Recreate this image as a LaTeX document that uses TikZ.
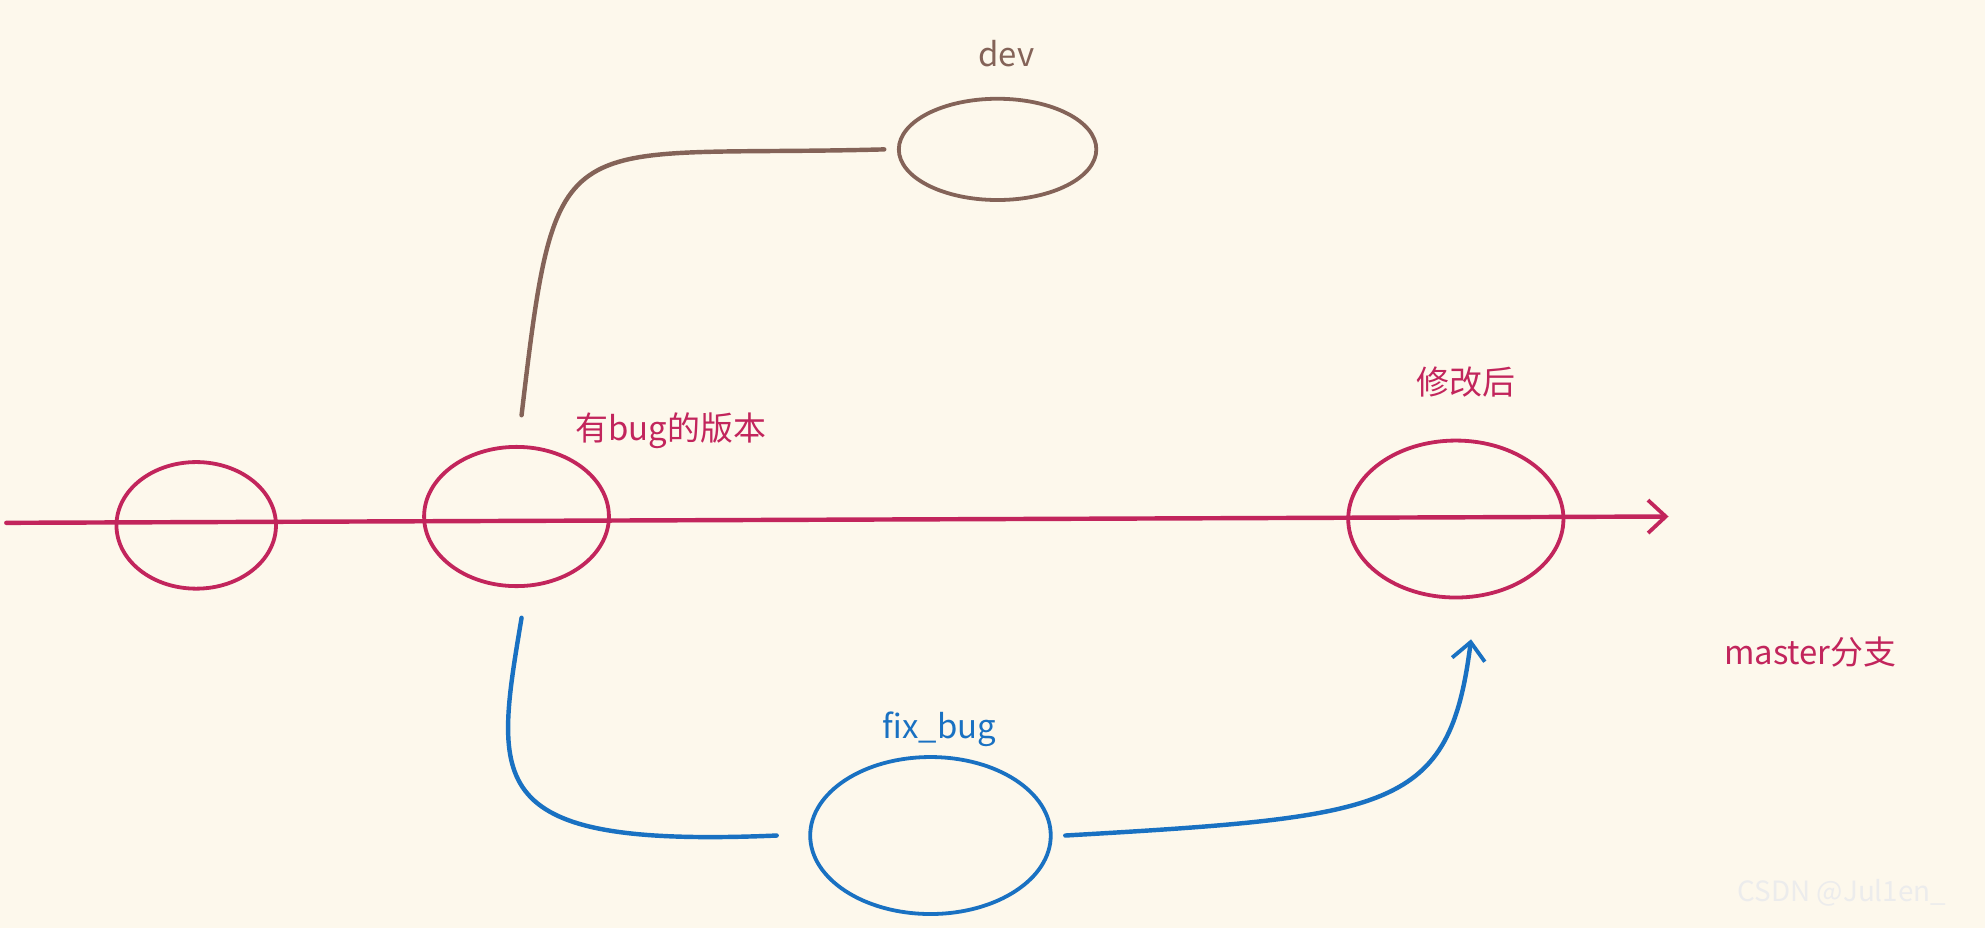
\documentclass[tikz,border=0pt]{standalone}
\usepackage{fontspec}
\setmainfont{Noto Sans CJK SC}
\usetikzlibrary{shapes.geometric,arrows.meta}
\definecolor{bg}{HTML}{FDF8EC}
\definecolor{mag}{HTML}{C2255C}
\definecolor{brn}{HTML}{846358}
\definecolor{blu}{HTML}{1971C2}
\tikzset{
 commit/.style={ellipse,draw,line width=3pt,inner sep=0pt},
 lbl/.style={font=\fontsize{26}{30}\selectfont},
 flow/.style={line width=3.5pt,line cap=round},
 tip/.style={-{Straight Barb[length=14pt,width=26pt,line width=3pt]}}
}
\begin{document}
\begin{tikzpicture}[x=1pt,y=-1pt]
\fill[bg] (0,0) rectangle (1568,733);
\useasboundingbox (0,0) rectangle (1568,733);
% master
\coordinate (ms) at (5,413);
\coordinate (me) at (1318,408);
\draw[flow,mag,tip] (ms) -- (me);
\node[commit,mag,minimum width=126pt,minimum height=100pt] (c1) at (155,415) {};
\node[commit,mag,minimum width=146pt,minimum height=110pt] (c2) at (408,408) {};
\node[commit,mag,minimum width=170pt,minimum height=124pt] (c3) at (1150,410) {};
\node[lbl,mag] (l2) at (530,340) {有bug的版本};
\node[lbl,mag] (l3) at (1158,302) {修改后};
\node[lbl,mag] (lm) at (1430,515) {master分支};
% dev
\node[commit,brn,minimum width=156pt,minimum height=80pt] (dev) at (788,118) {};
\node[lbl,brn] (ld) at (795,42) {dev};
\coordinate (ds) at (412,328);
\draw[flow,brn] (ds) .. controls (440,90) and (440,125) .. ([xshift=-10pt]dev.west);
% fix_bug
\node[commit,blu,minimum width=190pt,minimum height=124pt] (fb) at (735,660) {};
\node[lbl,blu] (lf) at (742,576) {fix\_bug};
\coordinate (fs) at (412,488);
\coordinate (fe) at (1162,505);
\draw[flow,blu] (fs) .. controls (390,620) and (380,670) .. ([xshift=-25pt]fb.west);
\draw[flow,blu,tip] ([xshift=10pt]fb.east) .. controls (1100,645) and (1145,640) .. (fe);
\node[font=\fontsize{22}{26}\selectfont,text=white!85!gray] (wm) at (1455,705) {CSDN @Jul1en\_};
\end{tikzpicture}
\end{document}
